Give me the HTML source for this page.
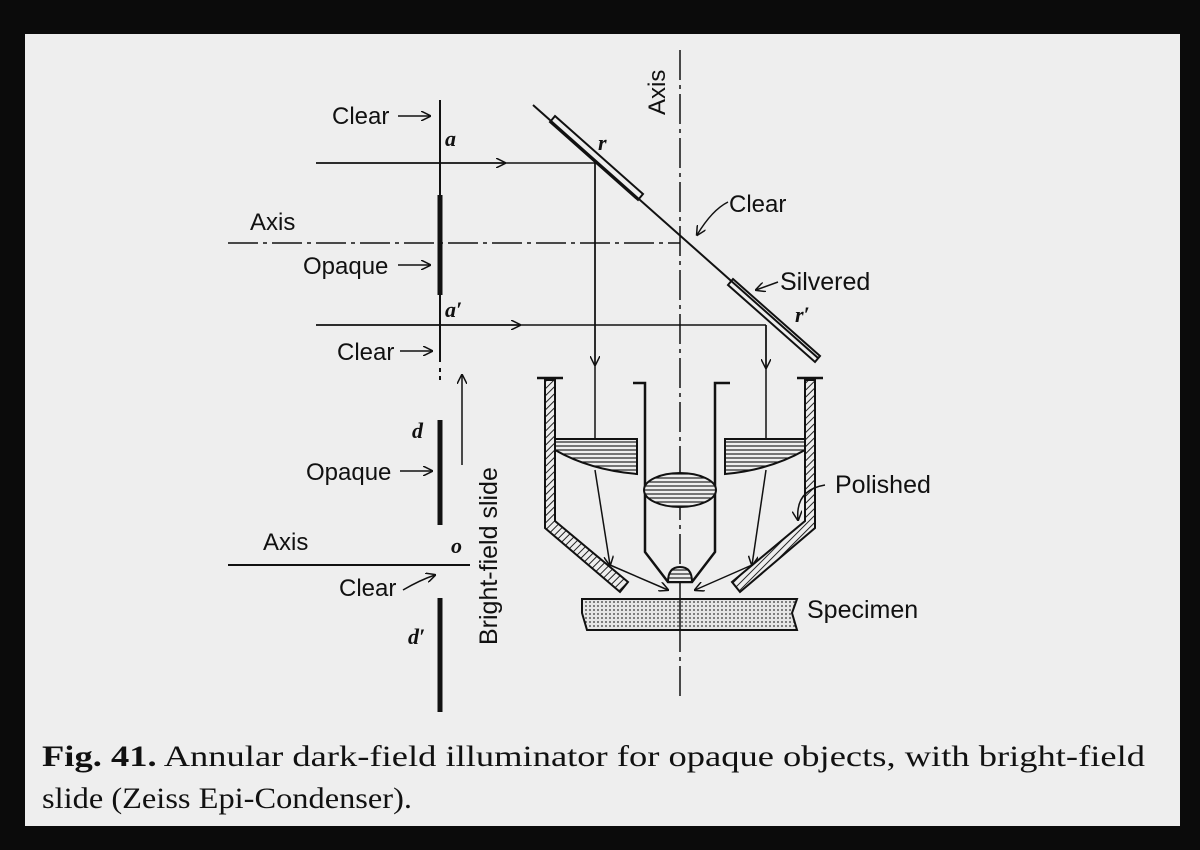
<!DOCTYPE html><html><head><style>body{margin:0;background:#0b0b0b}svg{display:block}</style></head><body>
<svg width="1200" height="850" viewBox="0 0 1200 850" xmlns="http://www.w3.org/2000/svg">
<defs>
<pattern id="h" width="4" height="4" patternUnits="userSpaceOnUse"><rect width="4" height="4" fill="#eee"/><line x1="0" y1="2" x2="4" y2="2" stroke="#222" stroke-width="1.2"/></pattern>
<pattern id="d" width="4" height="4" patternUnits="userSpaceOnUse"><rect width="4" height="4" fill="#e6e6e6"/><circle cx="2" cy="2" r="0.9" fill="#333"/></pattern>
<pattern id="s" width="5" height="5" patternUnits="userSpaceOnUse" patternTransform="rotate(45)"><rect width="5" height="5" fill="#eee"/><line x1="0" y1="0" x2="0" y2="5" stroke="#222" stroke-width="2"/></pattern>
<marker id="a" markerWidth="10" markerHeight="10" refX="9" refY="5" orient="auto" markerUnits="userSpaceOnUse"><path d="M0,0 L10,5 L0,10" fill="none" stroke="#111" stroke-width="1.5"/></marker>
</defs>
<rect x="25" y="34" width="1155" height="792" fill="#eeeeee"/>
<g stroke="#111" fill="none" font-family="Liberation Sans, sans-serif">
<line x1="440" y1="100" x2="440" y2="362" stroke-width="2"/>
<line x1="440" y1="368" x2="440" y2="384" stroke-width="2" stroke-dasharray="4 4"/>
<line x1="440" y1="195" x2="440" y2="295" stroke-width="5"/>
<line x1="440" y1="420" x2="440" y2="525" stroke-width="5"/>
<line x1="440" y1="598" x2="440" y2="712" stroke-width="5"/>
<line x1="228" y1="243" x2="680" y2="243" stroke-width="1.5" stroke-dasharray="30 5 4 5"/>
<line x1="228" y1="565" x2="470" y2="565" stroke-width="2"/>
<line x1="680" y1="50" x2="680" y2="700" stroke-width="1.5" stroke-dasharray="30 5 4 5"/>
<line x1="398" y1="116" x2="430" y2="116" stroke-width="1.5" marker-end="url(#a)"/>
<line x1="398" y1="265" x2="430" y2="265" stroke-width="1.5" marker-end="url(#a)"/>
<line x1="400" y1="351" x2="432" y2="351" stroke-width="1.5" marker-end="url(#a)"/>
<line x1="400" y1="471" x2="432" y2="471" stroke-width="1.5" marker-end="url(#a)"/>
<path d="M403,590 Q420,580 435,575" stroke-width="1.5" marker-end="url(#a)"/>
<line x1="462" y1="465" x2="462" y2="375" stroke-width="1.5" marker-end="url(#a)"/>
<line x1="316" y1="163" x2="595" y2="163" stroke-width="1.5"/>
<line x1="316" y1="163" x2="505" y2="163" stroke-width="1.5" marker-end="url(#a)"/>
<line x1="316" y1="325" x2="766" y2="325" stroke-width="1.5"/>
<line x1="316" y1="325" x2="520" y2="325" stroke-width="1.5" marker-end="url(#a)"/>
<line x1="595" y1="163" x2="595" y2="440" stroke-width="1.5"/>
<line x1="595" y1="163" x2="595" y2="365" stroke-width="1.5" marker-end="url(#a)"/>
<line x1="766" y1="325" x2="766" y2="440" stroke-width="1.5"/>
<line x1="766" y1="325" x2="766" y2="368" stroke-width="1.5" marker-end="url(#a)"/>
<line x1="533" y1="105" x2="818" y2="358" stroke-width="2"/>
<polygon points="555,116 643,194 638,200 550,122" stroke-width="2"/>
<polygon points="733,279 820,356 815,362 728,285" stroke-width="2"/>
<path d="M728,202 Q712,210 697,235" stroke-width="1.5" marker-end="url(#a)"/>
<path d="M778,282 L756,290" stroke-width="1.5" marker-end="url(#a)"/>
<path d="M545,380 L545,528 L620,592 L628,582 L555,521 L555,380 Z" fill="url(#s)" stroke-width="2"/>
<line x1="537" y1="378" x2="563" y2="378" stroke-width="2.5"/>
<path d="M815,380 L815,528 L740,592 L732,582 L805,521 L805,380 Z" fill="url(#s)" stroke-width="2"/>
<line x1="797" y1="378" x2="823" y2="378" stroke-width="2.5"/>
<path d="M555,439 L637,439 L637,474 Q590,470 555,450 Z" fill="url(#h)" stroke-width="2"/>
<path d="M805,439 L725,439 L725,474 Q770,470 805,450 Z" fill="url(#h)" stroke-width="2"/>
<path d="M633,383 L645,383 L645,552 L668,582 L692,582 L715,552 L715,383 L730,383" stroke-width="2.5"/>
<ellipse cx="680" cy="490" rx="36" ry="17" fill="url(#h)" stroke-width="2"/>
<path d="M668,582 Q668,567 680,567 Q692,567 692,582 Z" fill="url(#h)" stroke-width="2"/>
<line x1="595" y1="470" x2="610" y2="565" stroke-width="1.5" marker-end="url(#a)"/>
<line x1="610" y1="565" x2="668" y2="590" stroke-width="1.5" marker-end="url(#a)"/>
<line x1="766" y1="470" x2="752" y2="565" stroke-width="1.5" marker-end="url(#a)"/>
<line x1="752" y1="565" x2="695" y2="590" stroke-width="1.5" marker-end="url(#a)"/>
<path d="M825,485 Q795,490 798,520" stroke-width="1.5" marker-end="url(#a)"/>
<path d="M582,599 L797,599 L792,613 L797,630 L587,630 L582,613 Z" fill="url(#d)" stroke-width="2"/>
<line x1="680" y1="599" x2="680" y2="630" stroke-width="1.5"/>
</g>
<g font-family="Liberation Sans, sans-serif" font-size="24" fill="#111">
<text x="332" y="124">Clear</text>
<text x="250" y="230">Axis</text>
<text x="303" y="274">Opaque</text>
<text x="337" y="360">Clear</text>
<text x="306" y="480">Opaque</text>
<text x="263" y="550">Axis</text>
<text x="339" y="596">Clear</text>
<text x="729" y="212">Clear</text>
<text x="780" y="290" font-size="25">Silvered</text>
<text x="835" y="493" font-size="25">Polished</text>
<text x="807" y="618" font-size="25">Specimen</text>
<text transform="translate(665,115) rotate(-90)">Axis</text>
<text transform="translate(497,645) rotate(-90)" font-size="25">Bright-field slide</text>
</g>
<g font-family="Liberation Serif, serif" font-style="italic" font-weight="bold" font-size="22" fill="#111">
<text x="445" y="146">a</text><text x="598" y="150">r</text>
<text x="445" y="317">a′</text><text x="795" y="322">r′</text>
<text x="412" y="438">d</text><text x="451" y="553">o</text><text x="408" y="644">d′</text>
</g>
<g font-family="Liberation Serif, serif" font-size="30" fill="#111">
<text x="42" y="766" textLength="1103" lengthAdjust="spacingAndGlyphs"><tspan font-weight="bold">Fig. 41.</tspan>  Annular dark-field illuminator for opaque objects, with bright-field</text>
<text x="42" y="808" textLength="370" lengthAdjust="spacingAndGlyphs">slide (Zeiss Epi-Condenser).</text>
</g>
</svg></body></html>
